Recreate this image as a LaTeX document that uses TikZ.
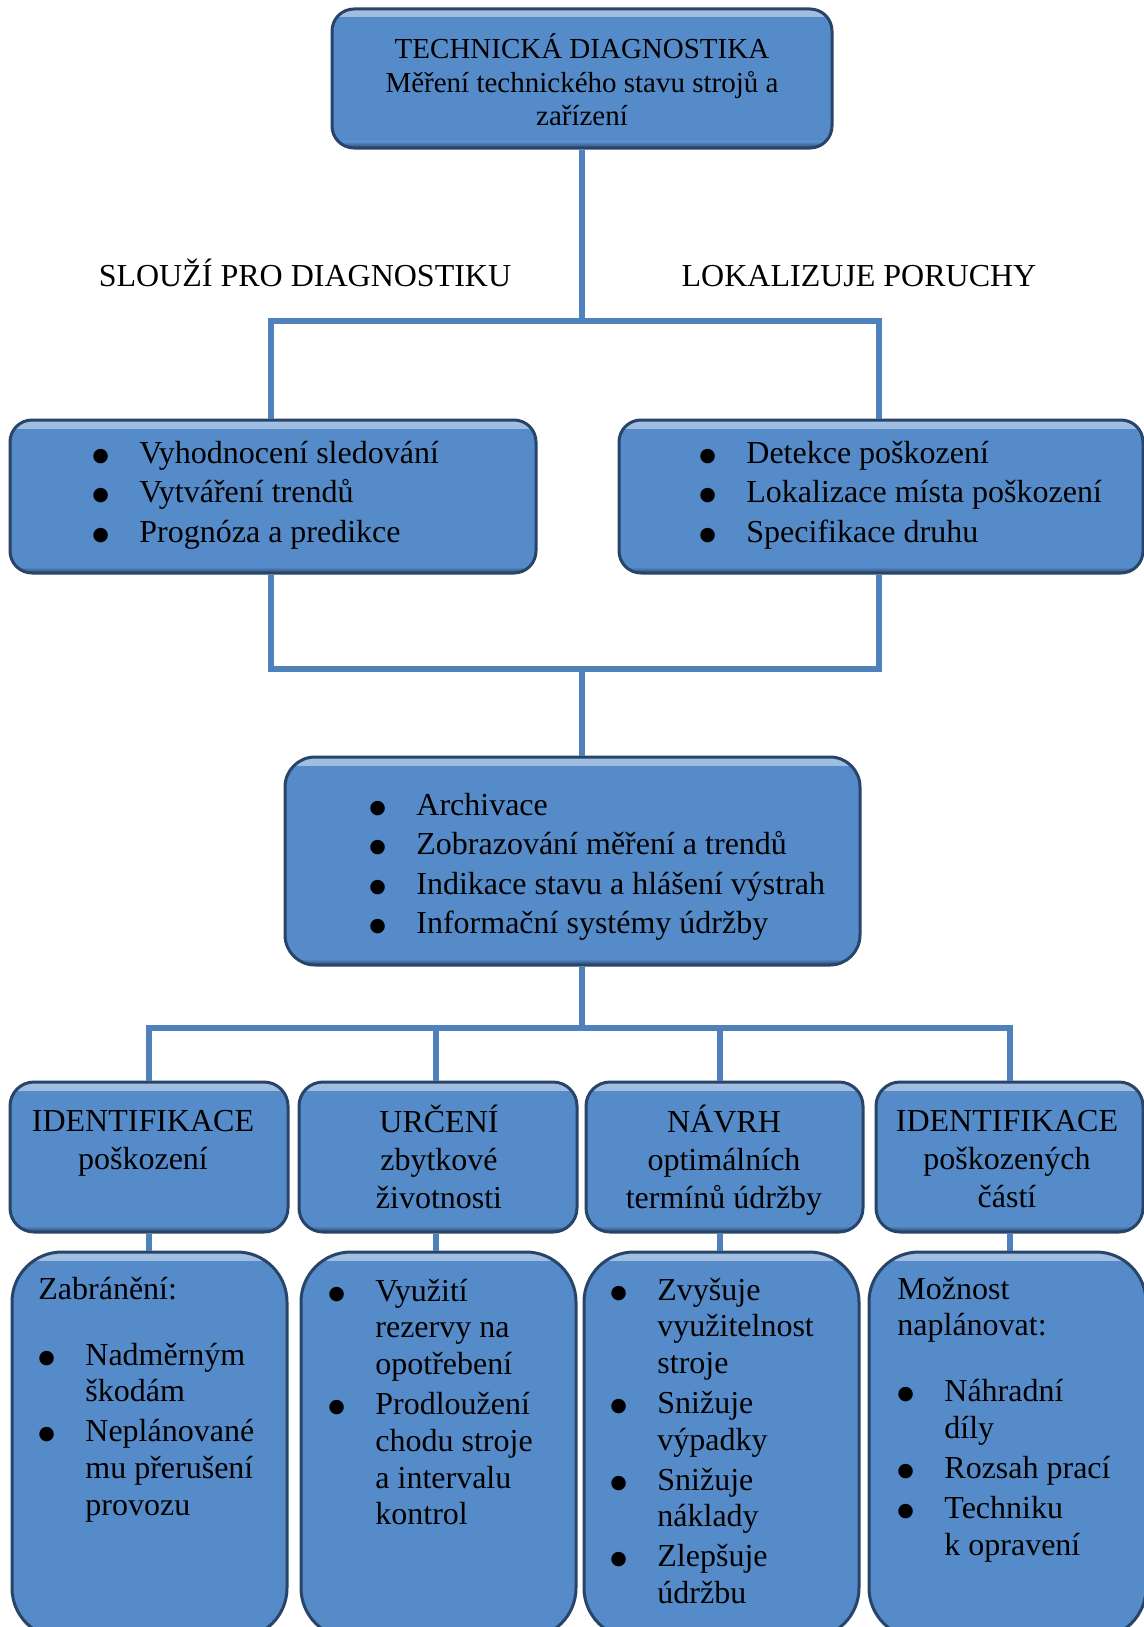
\documentclass[tikz,border=0pt]{standalone}
\usepackage{fontspec}
\setmainfont{Liberation Serif}
\newfontfamily\dotfont{DejaVu Sans}
\usepackage{tikz}

\definecolor{boxblue}{RGB}{86,139,201}
\definecolor{boxedge}{RGB}{40,68,104}
\definecolor{linkblue}{RGB}{79,129,189}

\newcommand{\bigtxt}{\fontsize{16}{18.4}\selectfont}
\newcommand{\toptxt}{\fontsize{14.5}{16.7}\selectfont}
\newcommand{\bl}{\makebox[23.5pt][l]{\raisebox{1pt}{\dotfont\fontsize{9.5}{9.5}\selectfont ●}}}
\newcommand{\blist}[1]{\begin{tabular}[t]{@{}l@{}l@{}}#1\end{tabular}}
\newcommand{\ctab}[1]{\begin{tabular}[t]{@{}c@{}}#1\end{tabular}}
\newcommand{\whole}[1]{\multicolumn{2}{@{}l@{}}{#1}}

\tikzset{
  box/.style={draw=boxedge, line width=1.5pt, fill=boxblue, rounded corners=11pt,
    path picture={
      \shade[sharp corners, top color=boxblue!55!white, bottom color=boxblue]
        (path picture bounding box.north west) rectangle ([yshift=-4pt]path picture bounding box.north east);
      \shade[sharp corners, top color=boxblue, bottom color=boxedge]
        ([yshift=3pt]path picture bounding box.south west) rectangle (path picture bounding box.south east);
    }},
  conn/.style={draw=linkblue, line width=3pt}
}

\begin{document}
\begin{tikzpicture}[x=0.5pt,y=-0.5pt]
  \useasboundingbox (0,0) rectangle (1144,1627);
  \clip (0,0) rectangle (1144,1627);

  % boxes
  \begin{scope}[every node/.style={box}]
    \node (T) [minimum width=250pt, minimum height=69.5pt] at (582,78.5) {};
    \node (L) [minimum width=263pt, minimum height=76.5pt] at (273,496.5) {};
    \node (R) [minimum width=262pt, minimum height=76.5pt] at (881,496.5) {};
    \node (M) [minimum width=287.5pt, minimum height=104pt, rounded corners=15pt] at (572.5,861) {};

    \node (H1) [minimum width=139pt, minimum height=75pt, rounded corners=12pt] at (149,1157) {};
    \node (H2) [minimum width=139pt, minimum height=75pt, rounded corners=12pt] at (438,1157) {};
    \node (H3) [minimum width=138.5pt, minimum height=75pt, rounded corners=12pt] at (724.5,1157) {};
    \node (H4) [minimum width=133.5pt, minimum height=75pt, rounded corners=12pt] at (1009.5,1157) {};

    \node (B1) [minimum width=137.5pt, minimum height=193pt, rounded corners=25pt] at (149.5,1445) {};
    \node (B2) [minimum width=137.5pt, minimum height=193pt, rounded corners=25pt] at (438.5,1445) {};
    \node (B3) [minimum width=137.5pt, minimum height=193pt, rounded corners=25pt] at (721.5,1445) {};
    \node (B4) [minimum width=138.5pt, minimum height=193pt, rounded corners=25pt] at (1007.5,1445) {};
  \end{scope}

  % texts
  \begin{scope}[every node/.style={inner sep=0pt, font=\bigtxt}]
    \node (Tt) [anchor=base, font=\toptxt] at (582,59)
      {\ctab{TECHNICKÁ DIAGNOSTIKA\\ Měření technického stavu strojů a\\ zařízení}};
    \node (sl) [anchor=base] at (305,286) {SLOUŽÍ PRO DIAGNOSTIKU};
    \node (lk) [anchor=base] at (859,286) {LOKALIZUJE PORUCHY};

    \node (Lt) [anchor=base west] at (92,463)
      {\blist{\bl & Vyhodnocení sledování\\[1.4pt] \bl & Vytváření trendů\\[1.4pt] \bl & Prognóza a predikce}};
    \node (Rt) [anchor=base west] at (699,463)
      {\blist{\bl & Detekce poškození\\[1.4pt] \bl & Lokalizace místa poškození\\[1.4pt] \bl & Specifikace druhu}};
    \node (Mt) [anchor=base west] at (369,815)
      {\blist{\bl & Archivace\\[1.4pt] \bl & Zobrazování měření a trendů\\[1.4pt]
              \bl & Indikace stavu a hlášení výstrah\\[1.4pt] \bl & Informační systémy údržby}};

    \node (H1t) [anchor=base] at (143,1131) {\ctab{IDENTIFIKACE\\[0.7pt] poškození}};
    \node (H2t) [anchor=base] at (439,1132) {\ctab{URČENÍ\\[0.7pt] zbytkové\\[0.7pt] životnosti}};
    \node (H3t) [anchor=base] at (724,1132) {\ctab{NÁVRH\\[0.7pt] optimálních\\[0.7pt] termínů údržby}};
    \node (H4t) [anchor=base] at (1007,1131) {\ctab{IDENTIFIKACE\\[0.7pt] poškozených\\[0.7pt] částí}};

    \node (B1t) [anchor=base west] at (38,1299)
      {\blist{\whole{Zabránění:}\\[14.6pt]
              \bl & Nadměrným\\ & škodám\\[1.5pt]
              \bl & Neplánované\\ & mu přerušení\\ & provozu}};
    \node (B2t) [anchor=base west] at (328,1301)
      {\blist{\bl & Využití\\ & rezervy na\\ & opotřebení\\[1.5pt]
              \bl & Prodloužení\\ & chodu stroje\\ & a intervalu\\ & kontrol}};
    \node (B3t) [anchor=base west] at (610,1300)
      {\blist{\bl & Zvyšuje\\ & využitelnost\\ & stroje\\[1.5pt]
              \bl & Snižuje\\ & výpadky\\[1.5pt]
              \bl & Snižuje\\ & náklady\\[1.5pt]
              \bl & Zlepšuje\\ & údržbu}};
    \node (B4t) [anchor=base west] at (897,1299)
      {\blist{\whole{Možnost}\\ \whole{naplánovat:}\\[14.6pt]
              \bl & Náhradní\\ & díly\\[1.5pt]
              \bl & Rozsah prací\\[1.5pt]
              \bl & Techniku\\ & k opravení}};
  \end{scope}

  % connectors
  \coordinate (j1) at (582,321);
  \coordinate (j2) at (582,669);
  \coordinate (j3) at (582,1028);
  \draw[conn] (T.south) -- (j1);
  \draw[conn] ([xshift=-1pt]L.north) |- (j1) -| ([xshift=-1.25pt]R.north);
  \draw[conn] ([xshift=-1pt]L.south) |- (j2) -| ([xshift=-1.25pt]R.south);
  \draw[conn] (j2) -- (j2 |- M.north);
  \draw[conn] (j3 |- M.south) -- (j3);
  \draw[conn] (H1.north) |- (j3) -| (H4.north);
  \draw[conn] ([xshift=-1pt]H2.north) -- ([xshift=-1pt]H2.north |- j3);
  \draw[conn] ([xshift=-2.25pt]H3.north) -- ([xshift=-2.25pt]H3.north |- j3);
  \draw[conn] (H1.south) -- (H1.south |- B1.north);
  \draw[conn] ([xshift=-1pt]H2.south) -- ([xshift=-1pt]H2.south |- B2.north);
  \draw[conn] ([xshift=-2.25pt]H3.south) -- ([xshift=-2.25pt]H3.south |- B3.north);
  \draw[conn] (H4.south) -- (H4.south |- B4.north);
\end{tikzpicture}
\end{document}
